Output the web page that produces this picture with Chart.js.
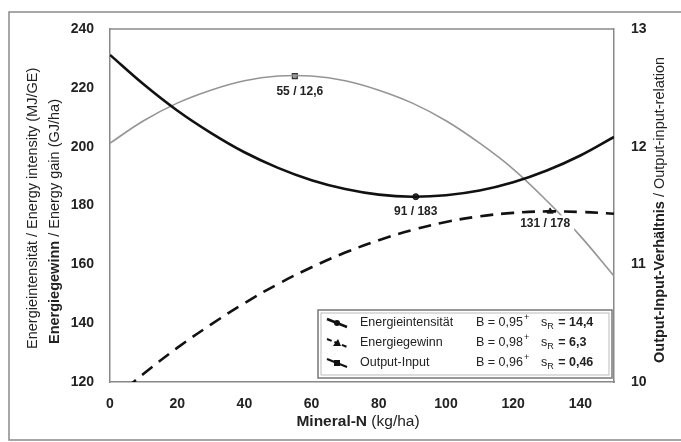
<!DOCTYPE html>
<html>
<head>
<meta charset="utf-8">
<script src="https://cdn.jsdelivr.net/npm/chart.js@4"></script>
<style>
  html, body { margin: 0; padding: 0; background: #fff; }
  #wrap { width: 681px; height: 442px; position: relative; }
</style>
</head>
<body>
<div id="wrap"><canvas id="chart"></canvas></div>
<script>
const nValues = [0, 10, 20, 30, 40, 50, 60, 70, 80, 90, 100, 110, 120, 130, 140, 150];
// left axis
const energyIntensity = [231.2, 221.2, 212.3, 204.7, 198.1, 192.8, 188.6, 185.6, 183.7, 183.0, 183.5, 185.1, 187.9, 191.9, 197.0, 203.3];
const energyGain = [113.3, 122.8, 131.6, 139.5, 146.8, 153.3, 159.0, 164.0, 168.2, 171.7, 174.4, 176.3, 177.5, 178.0, 177.8, 177.2];
// right axis
const outputInput = [12.03, 12.22, 12.37, 12.48, 12.56, 12.60, 12.60, 12.56, 12.48, 12.37, 12.22, 12.03, 11.81, 11.54, 11.24, 10.90];

// optimum points and their labels
const optIntensity = { x: 91, y: 183, label: '91 / 183' };
const optGain = { x: 131, y: 178, label: '131 / 178' };
const optOutputInput = { x: 55, y: 12.6, label: '55 / 12,6' };

// legend rows: name, B, s_R
const legendNames = ['Energieintensität', 'Energiegewinn', 'Output-Input'];
const legendB = ['0,95', '0,98', '0,96'];
const legendSR = ['14,4', '6,3', '0,46'];

const xTicks = [0, 20, 40, 60, 80, 100, 120, 140];

const FONT = "'Liberation Sans', Arial, Helvetica, sans-serif";
const TXT = '#222222';

function toPoints(xs, ys) {
   return xs.map((x, i) => ({ x: x, y: ys[i] }));
}

// text made of bold + normal parts
function drawParts(ctx, parts, size) {
   let x = 0;
   parts.forEach((p) => {
      ctx.font = (p.bold ? 'bold ' : '') + size + 'px ' + FONT;
      ctx.fillText(p.text, x, 0);
      x += ctx.measureText(p.text).width;
   });
   return x;
}
function partsWidth(ctx, parts, size) {
   let w = 0;
   parts.forEach((p) => {
      ctx.font = (p.bold ? 'bold ' : '') + size + 'px ' + FONT;
      w += ctx.measureText(p.text).width;
   });
   return w;
}

let DecorPlugin = {
   id: 'decor',
   beforeDraw: (chart) => {
      const ctx = chart.ctx;
      ctx.save();
      ctx.fillStyle = '#ffffff';
      ctx.fillRect(0, 0, chart.width, chart.height);
      // outer frame of the figure
      ctx.strokeStyle = '#8a8a8a';
      ctx.lineWidth = 1.5;
      ctx.strokeRect(9, 12, 700, 428);
      ctx.restore();
   },
   afterDatasetsDraw: (chart) => {
      const ctx = chart.ctx;
      const xs = chart.scales.x, yl = chart.scales.yLeft, yr = chart.scales.yRight;
      const area = chart.chartArea;
      ctx.save();

      // top border of the plot
      ctx.strokeStyle = '#888888';
      ctx.lineWidth = 1.5;
      ctx.beginPath();
      ctx.moveTo(area.left, area.top);
      ctx.lineTo(area.right, area.top);
      ctx.stroke();

      // point labels with white background
      ctx.font = 'bold 12px ' + FONT;
      ctx.textAlign = 'center';
      ctx.textBaseline = 'middle';
      const labels = [
         { px: xs.getPixelForValue(optOutputInput.x) + 5, py: yr.getPixelForValue(optOutputInput.y) + 16, t: optOutputInput.label },
         { px: xs.getPixelForValue(optIntensity.x), py: yl.getPixelForValue(optIntensity.y) + 15, t: optIntensity.label },
         { px: xs.getPixelForValue(optGain.x) - 5, py: yl.getPixelForValue(optGain.y) + 12, t: optGain.label },
      ];
      labels.forEach((l) => {
         const w = ctx.measureText(l.t).width;
         ctx.fillStyle = '#ffffff';
         ctx.fillRect(l.px - w / 2 - 4, l.py - 8, w + 8, 16);
         ctx.fillStyle = TXT;
         ctx.fillText(l.t, l.px, l.py);
      });

      // legend box
      const bx = 318, by = 310, bw = 294, bh = 68;
      ctx.fillStyle = '#ffffff';
      ctx.fillRect(bx, by, bw, bh);
      ctx.strokeStyle = '#777777';
      ctx.lineWidth = 1.5;
      ctx.strokeRect(bx, by, bw, bh);
      ctx.strokeStyle = '#bbbbbb';
      ctx.lineWidth = 1;
      ctx.strokeRect(bx + 3, by + 3, bw - 6, bh - 6);

      const rows = [323, 343, 363];
      rows.forEach((ry, i) => {
         // symbol: slanted line with marker
         ctx.strokeStyle = '#111111';
         ctx.lineWidth = i === 0 ? 2.5 : 2;
         if (i === 1) ctx.setLineDash([5, 3]); else ctx.setLineDash([]);
         ctx.beginPath();
         ctx.moveTo(327, ry - 4);
         ctx.lineTo(347, ry + 4);
         ctx.stroke();
         ctx.setLineDash([]);
         ctx.fillStyle = '#111111';
         if (i === 0) {
            ctx.beginPath(); ctx.arc(337, ry, 3, 0, Math.PI * 2); ctx.fill();
         } else if (i === 1) {
            ctx.beginPath(); ctx.moveTo(333, ry + 3); ctx.lineTo(341, ry + 3); ctx.lineTo(338, ry - 4); ctx.closePath(); ctx.fill();
         } else {
            ctx.fillRect(334, ry - 3, 6, 6);
         }

         ctx.textAlign = 'left';
         ctx.textBaseline = 'middle';
         ctx.fillStyle = TXT;
         ctx.font = '12.5px ' + FONT;
         ctx.fillText(legendNames[i], 360, ry);
         let t = 'B = ' + legendB[i];
         ctx.fillText(t, 476, ry);
         let w = ctx.measureText(t).width;
         ctx.font = '9px ' + FONT;
         ctx.fillText('+', 476 + w + 1, ry - 5);
         // s_R
         ctx.font = '12.5px ' + FONT;
         ctx.fillText('s', 541, ry);
         let sw = ctx.measureText('s').width;
         ctx.font = '9px ' + FONT;
         ctx.fillText('R', 541 + sw, ry + 4);
         let rw = ctx.measureText('R').width;
         ctx.font = 'bold 12.5px ' + FONT;
         ctx.fillText(' = ' + legendSR[i], 541 + sw + rw + 1, ry);
      });

      // axis titles
      ctx.fillStyle = TXT;
      ctx.textAlign = 'left';
      ctx.textBaseline = 'middle';

      ctx.save();
      ctx.translate(33, 349);
      ctx.rotate(-Math.PI / 2);
      drawParts(ctx, [{ text: 'Energieintensität / Energy intensity (MJ/GE)', bold: false }], 14.5);
      ctx.restore();

      ctx.save();
      ctx.translate(55, 344);
      ctx.rotate(-Math.PI / 2);
      drawParts(ctx, [{ text: 'Energiegewinn', bold: true }, { text: ' / Energy gain (GJ/ha)', bold: false }], 14.5);
      ctx.restore();

      ctx.save();
      ctx.translate(660, 363);
      ctx.rotate(-Math.PI / 2);
      drawParts(ctx, [{ text: 'Output-Input-Verhältnis', bold: true }, { text: ' / Output-input-relation', bold: false }], 14.5);
      ctx.restore();

      const xParts = [{ text: 'Mineral-N', bold: true }, { text: ' (kg/ha)', bold: false }];
      const xw = partsWidth(ctx, xParts, 15.5);
      ctx.save();
      ctx.translate(358 - xw / 2, 422);
      drawParts(ctx, xParts, 15.5);
      ctx.restore();

      ctx.restore();
   }
};

Chart.register(DecorPlugin);
Chart.defaults.color = TXT;
Chart.defaults.font = { family: FONT, size: 14, weight: 'bold' };

new Chart(document.getElementById('chart'), {
   type: 'line',
   data: {
      datasets: [{
         label: 'Energieintensität',
         data: toPoints(nValues, energyIntensity),
         yAxisID: 'yLeft',
         borderColor: '#111111',
         borderWidth: 2.6,
         tension: 0.4,
         pointRadius: 0,
      }, {
         label: 'Energiegewinn',
         data: toPoints(nValues, energyGain),
         yAxisID: 'yLeft',
         borderColor: '#111111',
         borderWidth: 2.6,
         borderDash: [13, 8],
         tension: 0.4,
         pointRadius: 0,
      }, {
         label: 'Output-Input',
         data: toPoints(nValues, outputInput),
         yAxisID: 'yRight',
         borderColor: '#959595',
         borderWidth: 1.6,
         tension: 0.4,
         pointRadius: 0,
      }, {
         // optimum markers
         data: [{ x: optIntensity.x, y: optIntensity.y }],
         yAxisID: 'yLeft',
         showLine: false,
         pointStyle: 'circle',
         pointRadius: 3,
         pointBackgroundColor: '#333333',
         pointBorderColor: '#111111',
      }, {
         data: [{ x: optGain.x, y: optGain.y }],
         yAxisID: 'yLeft',
         showLine: false,
         pointStyle: 'triangle',
         pointRadius: 3.5,
         pointBackgroundColor: '#222222',
         pointBorderColor: '#222222',
      }, {
         data: [{ x: optOutputInput.x, y: optOutputInput.y }],
         yAxisID: 'yRight',
         showLine: false,
         pointStyle: 'rect',
         pointRadius: 3.5,
         pointBackgroundColor: '#999999',
         pointBorderColor: '#333333',
         pointBorderWidth: 1.2,
      }]
   },
   options: {
      plugins: {
         legend: { display: false },
         tooltip: { enabled: false }
      },
      events: [],
      animation: false,
      responsive: true,
      maintainAspectRatio: false,
      layout: { padding: { top: 29 } },
      scales: {
         x: {
            type: 'linear',
            min: 0,
            max: 150,
            grid: { display: false },
            border: { color: '#888888', width: 1.5 },
            afterBuildTicks: (scale) => { scale.ticks = xTicks.map((v) => ({ value: v })); },
            afterFit: (scale) => { scale.height = 60; },
            ticks: { padding: 6, maxRotation: 0 }
         },
         yLeft: {
            position: 'left',
            min: 120,
            max: 240,
            grid: { display: false },
            border: { color: '#888888', width: 1.5 },
            afterFit: (scale) => { scale.width = 110; },
            ticks: { stepSize: 20, padding: 8 }
         },
         yRight: {
            position: 'right',
            min: 10,
            max: 13,
            grid: { display: false },
            border: { color: '#888888', width: 1.5 },
            afterFit: (scale) => { scale.width = 67; },
            ticks: { stepSize: 1, padding: 9 }
         }
      }
   }
});
</script>
</body>
</html>
